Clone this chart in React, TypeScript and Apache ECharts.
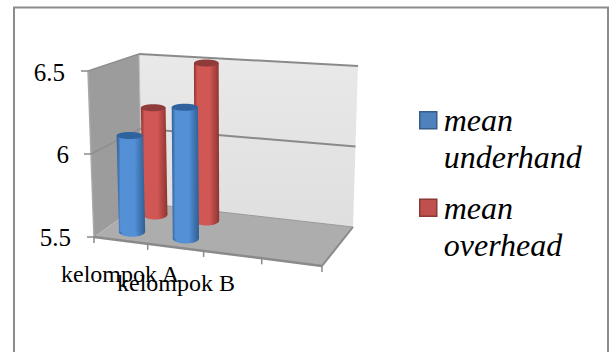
import React, { useEffect, useRef } from "react";
import * as echarts from "echarts";

const categories = ["kelompok A", "kelompok B", "", ""];
const yTicks = [5.5, 6, 6.5];
const underhandValues = [6.09, 6.29];
const overheadValues = [6.19, 6.5];
const underhandName = "mean\nunderhand";
const overheadName = "mean\noverhead";

const yMin = 5.5;
const yMax = 6.5;
const serif = "Liberation Serif";

// Corners of the drawn box: [along the front edge][height][into the depth]
const box = {
  fbl: [94, 237], fbr: [322, 266], ftl: [88, 71], ftr: [328, 88],
  bbl: [142, 203], bbr: [353, 227], btl: [139, 54], btr: [358, 66],
};

const mix = (a: number[], b: number[], t: number) => [a[0] + (b[0] - a[0]) * t, a[1] + (b[1] - a[1]) * t];

// Trilinear placement inside the box, with u narrowing slightly to the right of the front edge
const project = (uRaw: number, v: number, d: number) => {
  const u = uRaw - 0.077 * uRaw * (1 - uRaw);
  const frontBottom = mix(box.fbl, box.fbr, u);
  const frontTop = mix(box.ftl, box.ftr, u);
  const backBottom = mix(box.bbl, box.bbr, u);
  const backTop = mix(box.btl, box.btr, u);
  return mix(mix(frontBottom, frontTop, v), mix(backBottom, backTop, v), d);
};

const gridLeft = 92;
const gridWidth = 224;
const gridTop = 72;
const gridHeight = 165;
const toU = (x: number) => (x - gridLeft) / gridWidth;
const toV = (y: number) => (gridTop + gridHeight - y) / gridHeight;

const edge = "#8a8a8a";

const renderBox = (_: any, api: any) => {
  const line = (a: number[], b: number[], width: number, stroke = edge) => ({
    type: "line",
    shape: { x1: a[0], y1: a[1], x2: b[0], y2: b[1] },
    style: { stroke, lineWidth: width },
  });
  const children: any[] = [
    {
      type: "polygon",
      shape: { points: [box.btl, box.btr, box.bbr, box.bbl] },
      style: { fill: new echarts.graphic.LinearGradient(0, 0, 0, 1, [
        { offset: 0, color: "#e9e9e9" },
        { offset: 1, color: "#dfdfdf" },
      ]) },
    },
    {
      type: "polygon",
      shape: { points: [box.ftl, box.btl, box.bbl, box.fbl] },
      style: { fill: "#9c9c9c" },
    },
    {
      type: "polygon",
      shape: { points: [box.fbl, box.bbl, box.bbr, box.fbr] },
      style: { fill: "#adadad" },
    },
    line(box.btl, box.bbl, 1, "#bdbdbd"),
    line(box.fbl, box.ftl, 1.5, "#a8a8a8"),
    line(box.bbl, box.bbr, 1, "#9a9a9a"),
  ];
  yTicks.forEach((tick) => {
    const v = toV(api.coord([0, tick])[1]);
    if (tick > yMin) {
      children.push(line(project(0, v, 0), project(0, v, 1), 1.5, "#8f8f8f"));
      children.push(line(project(0, v, 1), project(1, v, 1), 2));
    }
    const front = project(0, v, 0);
    children.push(line([front[0] - 7, front[1]], [front[0], front[1]], 1.5));
  });
  children.push(line(box.fbl, box.fbr, 2.5));
  children.push(line(box.fbr, box.bbr, 2));
  categories.concat("").forEach((_c, i) => {
    const p = project(i / categories.length, 0, 0);
    children.push(line([p[0], p[1]], [p[0], p[1] + 6], 1.5));
  });
  return { type: "group", children };
};

const cylinder = (depth: number, dark: string, light: string, cap: string) => (_: any, api: any) => {
  const index = api.value(0);
  const top = api.coord([index, api.value(1)]);
  const base = api.coord([index, yMin]);
  const u = toU(top[0]);
  const t = project(u, toV(top[1]), depth);
  const b = project(u, toV(base[1]), depth);
  const hw = 13.5 - 1.5 * depth;
  const fill = () => new echarts.graphic.LinearGradient(0, 0, 1, 0, [
    { offset: 0, color: dark },
    { offset: 0.14, color: light },
    { offset: 0.62, color: light },
    { offset: 1, color: dark },
  ]);
  return {
    type: "group",
    children: [
      { type: "ellipse", shape: { cx: b[0], cy: b[1], rx: hw, ry: 5 }, style: { fill: fill() } },
      {
        type: "polygon",
        shape: { points: [[t[0] - hw, t[1]], [t[0] + hw, t[1]], [b[0] + hw, b[1]], [b[0] - hw, b[1]]] },
        style: { fill: fill() },
      },
      { type: "ellipse", shape: { cx: t[0], cy: t[1], rx: hw, ry: 3.5 }, style: { fill: cap } },
    ],
  };
};

// Legend swatch sits beside the first text line: the far corners stretch the symbol's box to two lines
const swatch = "path://M0 0L0 0 M0 10H17V27H0Z M19 74L19 74Z";

const legendText = { fontFamily: serif, fontStyle: "italic", fontSize: 32, lineHeight: 37, color: "#000" };
const yRich = (right: number) => ({ fontFamily: serif, fontSize: 25, color: "#000", padding: [0, right, 0, 0] });

export default function App() {
  const ref = useRef<HTMLDivElement>(null);

  useEffect(() => {
    document.body.style.margin = "0";
    const chart = echarts.init(ref.current!, undefined, { renderer: "svg" });
    chart.setOption({
      animation: false,
      backgroundColor: "#ffffff",
      textStyle: { fontFamily: serif },
      grid: { left: gridLeft, width: gridWidth, top: gridTop, height: gridHeight },
      xAxis: {
        type: "category",
        data: categories,
        axisLine: { show: false },
        axisTick: { show: false },
        axisLabel: {
          interval: 0,
          hideOverlap: false,
          margin: 25,
          color: "#000",
          fontFamily: serif,
          fontSize: 24,
          formatter: (value: string) => (value === categories[1] ? `{b|${value}}` : `{a|${value}}`),
          rich: {
            a: { fontFamily: serif, fontSize: 24, color: "#000", padding: [0, 0, 9, 0] },
            b: { fontFamily: serif, fontSize: 24, color: "#000", padding: [9, 0, 0, 0] },
          },
        },
      },
      yAxis: {
        type: "value",
        min: yMin,
        max: yMax,
        interval: 0.5,
        axisLine: { show: false },
        axisTick: { show: false },
        splitLine: { show: false },
        axisLabel: {
          margin: 21,
          fontFamily: serif,
          fontSize: 25,
          formatter: (value: number) => `{t${String(value).replace(".", "")}|${value}}`,
          rich: { t55: yRich(0), t6: yRich(2), t65: yRich(6) },
        },
      },
      legend: {
        orient: "vertical",
        left: 419,
        top: 101,
        padding: 0,
        itemGap: 12,
        itemWidth: 19,
        itemHeight: 74,
        selectedMode: false,
        textStyle: legendText,
        data: [
          { name: underhandName, icon: swatch, textStyle: legendText, itemStyle: { color: "#4f81bd", borderColor: "#385d8a", borderWidth: 1.5 } },
          { name: overheadName, icon: swatch, textStyle: legendText, itemStyle: { color: "#c0504d", borderColor: "#8c3836", borderWidth: 1.5 } },
        ],
      },
      graphic: [
        {
          type: "rect",
          shape: { x: 14, y: 7.5, width: 594, height: 400 },
          style: { fill: "none", stroke: "#8c8c8c", lineWidth: 2 },
          silent: true,
        },
      ],
      series: [
        { type: "custom", silent: true, clip: false, renderItem: renderBox, data: [[0, yMin]], encode: { x: 0, y: 1 }, z: 1 },
        {
          type: "custom",
          name: overheadName,
          clip: false,
          z: 2,
          renderItem: cylinder(0.75, "#8e3431", "#d05753", "#8f3b39"),
          itemStyle: { color: "#c0504d" },
          encode: { x: 0, y: 1 },
          data: overheadValues.map((v, i) => [i, v]),
        },
        {
          type: "custom",
          name: underhandName,
          clip: false,
          z: 3,
          renderItem: cylinder(0.25, "#2f5e93", "#5390d6", "#30639d"),
          itemStyle: { color: "#4f81bd" },
          encode: { x: 0, y: 1 },
          data: underhandValues.map((v, i) => [i, v]),
        },
      ],
    });
    return () => chart.dispose();
  }, []);

  return <div ref={ref} style={{ width: 612, height: 352 }} />;
}
